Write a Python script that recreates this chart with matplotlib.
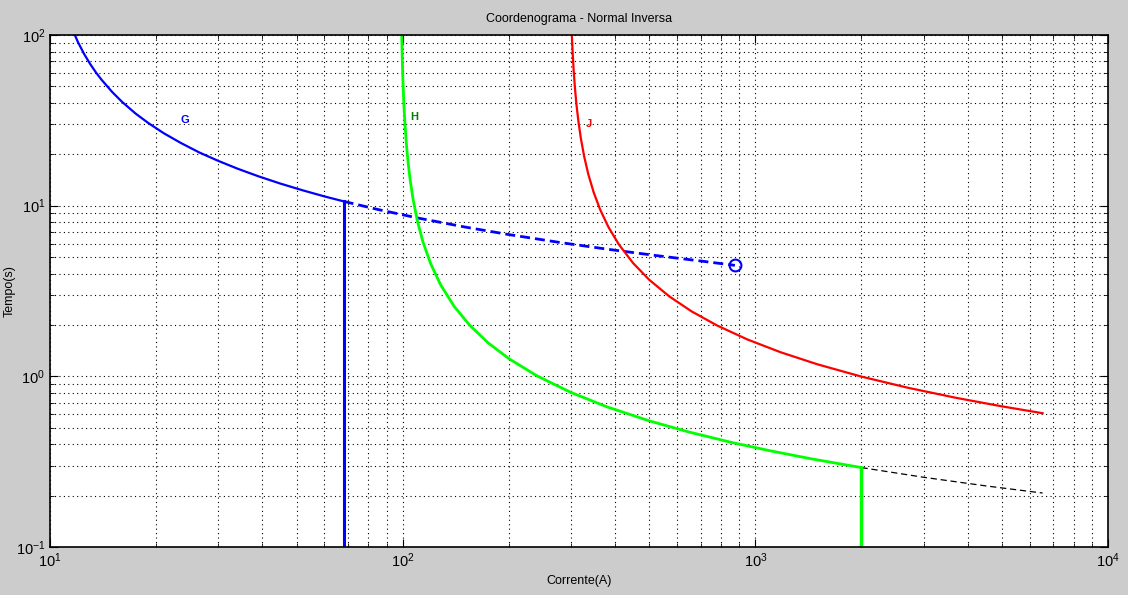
import matplotlib
matplotlib.use("Agg")
import matplotlib.pyplot as plt

plt.rcParams["font.family"] = ["Liberation Sans", "DejaVu Sans"]
plt.rcParams["mathtext.default"] = "regular"

# curve G (blue)
g_I = [11.5, 12, 12.5, 13, 13.5, 14, 15, 16, 17.5, 19, 21, 23.5, 26.5, 30, 34, 39,
       45, 52, 60, 68]
g_t = [111.2, 90.9, 77.3, 67.6, 60.3, 54.7, 46.4, 40.6, 34.6, 30.5, 26.6, 23.3, 20.5,
       18.3, 16.48, 14.86, 13.47, 12.31, 11.33, 10.6]
# dashed extension of G up to the marked point
gd_I = [68, 85, 110, 150, 200, 280, 380, 520, 700, 875]
gd_t = [10.6, 9.50, 8.48, 7.50, 6.77, 6.08, 5.56, 5.11, 4.74, 4.47]
g_pick = (875, 4.47)
g_vert = 68

# curve H (green)
h_I = [99.4, 99.7, 100.2, 100.8, 101.5, 102.5, 103.5, 105, 107, 110, 114, 120, 128,
       140, 155, 175, 200, 240, 300, 380, 500, 650, 850, 1100, 1450, 2000]
h_t = [99.6, 74.8, 52.9, 39.2, 30.19, 22.75, 18.29, 14.17, 10.94, 8.196, 6.190, 4.580,
       3.449, 2.568, 1.989, 1.567, 1.270, 1.008, 0.8045, 0.6620, 0.5487, 0.4711,
       0.4114, 0.3665, 0.3279, 0.2919]
hd_I = [2000, 3000, 4500, 6525]
hd_t = [0.2919, 0.2562, 0.2281, 0.2071]
h_vert = 2000

# curve J (red)
j_I = [301, 302, 303.5, 305.5, 308, 311, 315, 320, 327, 336, 348, 363, 383, 410, 450,
       500, 570, 660, 780, 950, 1180, 1500, 2000, 2700, 3700, 5000, 6525]
j_t = [115.8, 96.7, 77.5, 61.4, 48.8, 39.2, 31.2, 24.9, 19.46, 15.29, 11.97, 9.49,
       7.51, 5.935, 4.612, 3.681, 2.941, 2.400, 1.983, 1.644, 1.3835, 1.1761, 0.9961,
       0.8583, 0.7489, 0.6671, 0.608]

labels = [("G", 24.1, 31.8, "#0000ff"), ("H", 108, 33, "#008000"), ("J", 337, 30, "#ff0000")]

fig = plt.figure(figsize=(11.28, 5.95), dpi=100, facecolor="#cccccc")
ax = fig.add_axes([50 / 1128, 48 / 595, 1058 / 1128, 512 / 595])
ax.set_xscale("log")
ax.set_yscale("log")

ax.plot(g_I, g_t, color="#0000ff", lw=1.6)
ax.plot(gd_I, gd_t, color="#0000ff", lw=2, dashes=(3.6, 1.8))
ax.plot(*g_pick, "o", ms=8.5, mfc="none", mec="#0000ff", mew=1.5)
ax.plot([g_vert, g_vert], [g_t[-1], 0.1], color="#0000ff", lw=2.2)

ax.plot(h_I, h_t, color="#00ff00", lw=2)
ax.plot(hd_I, hd_t, color="black", lw=0.9, dashes=(5, 3))
ax.plot([h_vert, h_vert], [h_t[-1], 0.1], color="#00ff00", lw=2.5)

ax.plot(j_I, j_t, color="#ff0000", lw=1.6)

for txt, x, y, c in labels:
    ax.text(x, y, txt, color=c, fontsize=8, fontweight="bold", ha="center", va="center")

ax.set_xlim(10, 1e4)
ax.set_ylim(0.1, 100)
ax.grid(True, which="both", color="black", ls=(0, (1, 3)), lw=0.8)
ax.tick_params(which="both", direction="in", top=True, right=True, labelsize=10.5)
ax.tick_params(which="major", length=6)
ax.tick_params(which="minor", length=3)
for s in ax.spines.values():
    s.set_linewidth(1.2)

ax.set_title("Coordenograma - Normal Inversa", fontsize=9, pad=9)
ax.set_xlabel("Corrente(A)", fontsize=9, labelpad=3)
ax.set_ylabel("Tempo(s)", fontsize=9)
ax.yaxis.set_label_coords(-0.032, 0.5)

fig.savefig("out.png", dpi=100, facecolor=fig.get_facecolor())
